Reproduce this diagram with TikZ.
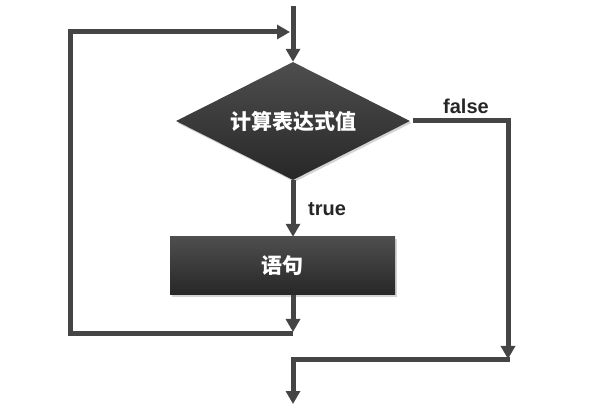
\documentclass[tikz,border=0pt]{standalone}
\usepackage{fontspec}
\setmainfont{Liberation Sans}
\newfontfamily\cjk{Noto Sans CJK SC}
\usetikzlibrary{calc, arrows.meta, shapes.geometric, shadows}

\definecolor{linegray}{HTML}{454545}
\definecolor{boxtop}{HTML}{4E4E4E}
\definecolor{boxbot}{HTML}{272727}

\tikzset{
    flow/.style={draw=linegray, line width=5pt},
    arr/.style={flow, -{Triangle[width=14pt, length=13pt]}},
    block/.style={top color=boxtop, bottom color=boxbot, text=white,
        font=\cjk\bfseries\fontsize{21}{25}\selectfont, inner sep=0pt,
        drop shadow={opacity=0.35, shadow xshift=1.5pt, shadow yshift=-2pt}},
    lbl/.style={font=\bfseries\fontsize{20}{24}\selectfont, text=black!85}
}

\begin{document}
\begin{tikzpicture}[x=1pt, y=1pt]
    \useasboundingbox (0,0) rectangle (602,-411);

    \coordinate (start) at (293,-6);
    \coordinate (loopend) at (290,-32);
    \coordinate (back) at (293,-334);
    \coordinate (fend) at (508,-359);
    \coordinate (exit) at (293,-404);

    \node[block, diamond, aspect=2, minimum width=234pt, minimum height=118pt]
        (cond) at (293,-121) {计算表达式值};
    \node[block, rectangle, minimum width=225pt, minimum height=58pt]
        (stmt) at (282.5,-266) {语句};

    % entry and loop back
    \draw[arr] (start) -- (cond.north);
    \draw[arr] (cond.south) -- (cond.south |- stmt.north);
    \draw[arr] (stmt.south -| back) -- ($(back)+(0,2)$);
    \draw[arr] (back) -- (70,-334) -- (70,-32) -- (loopend);

    % false branch
    \draw[arr, shorten <=3pt] (cond.east) -- (508,-121) -- (fend);
    \draw[arr] (fend -| 510,0) -- (fend -| exit) -- (exit);

    \node[lbl] (truelbl) at (327,-209) {true};
    \node[lbl] (falselbl) at (466,-106) {false};
\end{tikzpicture}
\end{document}
